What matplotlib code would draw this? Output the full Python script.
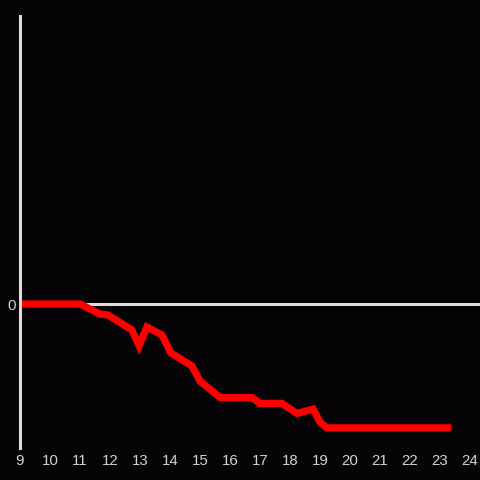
import matplotlib
matplotlib.use("Agg")
import matplotlib.pyplot as plt

plt.rcParams['font.family'] = ['Liberation Sans', 'DejaVu Sans']

# hour of day vs. value
hours = [9.0, 11.0, 11.67, 11.93, 12.73, 12.97, 13.23, 13.73, 14.03, 14.73,
         15.0, 15.67, 16.73, 17.0, 17.73, 18.23, 18.77, 19.0, 19.23, 23.38]
values = [0.0, 0.0, -0.07, -0.076, -0.18, -0.29, -0.16, -0.215, -0.34, -0.43,
          -0.535, -0.65, -0.65, -0.69, -0.69, -0.76, -0.73, -0.82, -0.86, -0.86]
xticks = list(range(9, 25))

bg = '#060407'
axis_col = '#dcdcdc'
text_col = '#d2d2d2'

fig = plt.figure(figsize=(4.8, 4.8), dpi=100, facecolor=bg)
ax = fig.add_axes([20 / 480, 32 / 480, 460 / 480, 432 / 480], facecolor=bg)

ax.axhline(0, color=axis_col, linewidth=2.2, zorder=1)
ax.plot(hours, values, color='#ff0000', linewidth=5.2,
        solid_joinstyle='miter', solid_capstyle='butt', zorder=2)

ax.set_xlim(9, 9 + 460 / 30)
ax.set_ylim(-1, 2)
ax.set_xticks(xticks)
ax.set_xticklabels([str(h) for h in xticks])
ax.set_yticks([0])
ax.set_yticklabels(['0'])
ax.tick_params(axis='both', length=0, colors=text_col, labelsize=10.8)
ax.tick_params(axis='x', pad=4)
ax.tick_params(axis='y', pad=3)

for side in ['top', 'right', 'bottom']:
    ax.spines[side].set_visible(False)
ax.spines['left'].set_color(axis_col)
ax.spines['left'].set_linewidth(2.2)

fig.savefig('out.png', dpi=100, facecolor=bg)
